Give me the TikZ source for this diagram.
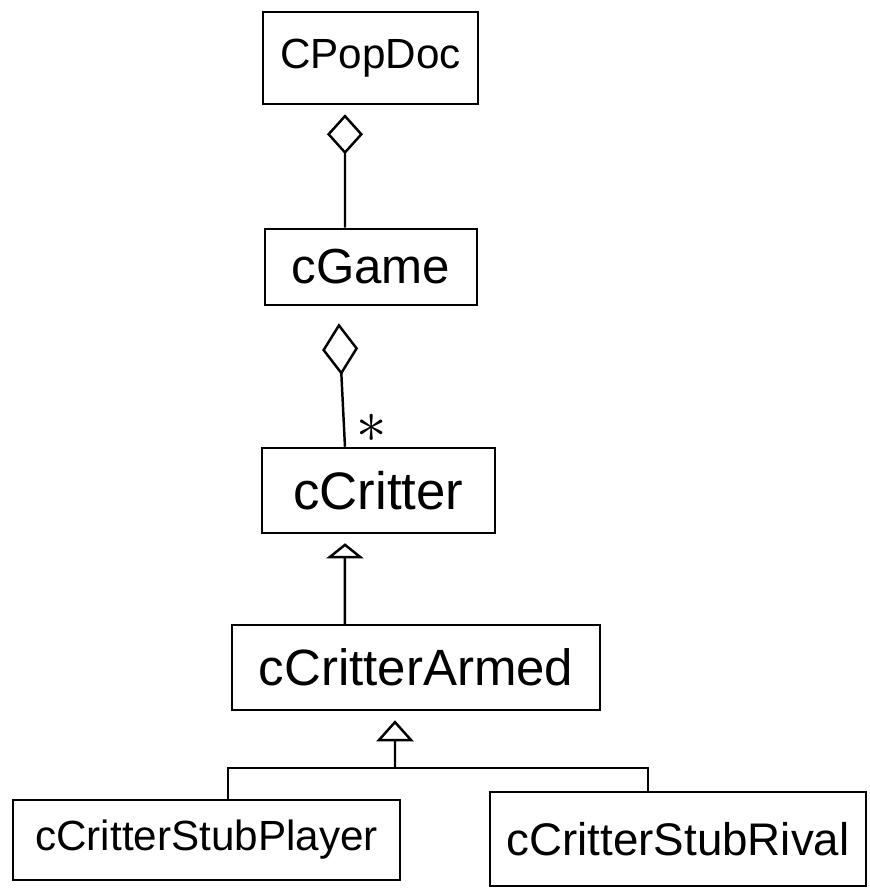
\documentclass[tikz,border=0pt]{standalone}
\usepackage{fontspec}
\setmainfont{Liberation Sans}
\usetikzlibrary{arrows.meta}

\begin{document}
\begin{tikzpicture}[
  x = 0.01cm, y = -0.01cm,
  line width = 0.7pt,
  cls/.style = {draw,inner sep=0pt,font=\fontsize{13}{15}\selectfont},
  has/.style = {arrows={Diamond[open,length=#1,width=0.36cm]-},shorten <=0.09cm},
  isa/.style = {arrows={Triangle[open,length=#1,width=0.37cm]-},shorten <=0.09cm},
  mult/.style = {inner sep=0pt,font=\LARGE}
  ]
  \useasboundingbox (0,0) rectangle (870,891);
  \node[cls,minimum width=2.15cm,minimum height=0.92cm,font=\fontsize{12}{14}\selectfont] (@doc) at (370.5,58) {CPopDoc};
  \node[cls,minimum width=2.12cm,minimum height=0.76cm,font=\fontsize{14}{16}\selectfont] (@game) at (371,267) {cGame};
  \node[cls,minimum width=2.33cm,minimum height=0.85cm,font=\fontsize{15}{17}\selectfont] (@critter) at (378.5,490.5) {cCritter};
  \node[cls,minimum width=3.68cm,minimum height=0.85cm,font=\fontsize{14.5}{17}\selectfont] (@armed) at (416,667.5) {cCritterArmed};
  \node[cls,minimum width=3.87cm,minimum height=0.80cm,font=\fontsize{12}{14}\selectfont] (@player) at (206.5,840) {cCritterStubPlayer};
  \node[cls,minimum width=3.76cm,minimum height=0.94cm] (@rival) at (678,839) {cCritterStubRival};
  \node[mult] (@many) at (372,428) {$\ast$};
  \coordinate (@fork) at (395,768);

  \draw[has=0.4cm] ([xshift=-0.255cm]@doc.south) -- ([xshift=-0.26cm]@game.north);
  \draw[has=0.52cm,shorten <=0.17cm] ([xshift=-0.33cm]@game.south) -- ([xshift=-0.335cm]@critter.north);
  \draw[isa=0.15cm] ([xshift=-0.335cm]@critter.south) -- ([xshift=-0.71cm]@armed.north);
  \draw[isa=0.21cm] ([xshift=-0.21cm]@armed.south) -- (@fork);
  \draw ([xshift=0.215cm]@player.north) |- (@fork) -| ([xshift=-0.3cm]@rival.north);
\end{tikzpicture}
\end{document}
